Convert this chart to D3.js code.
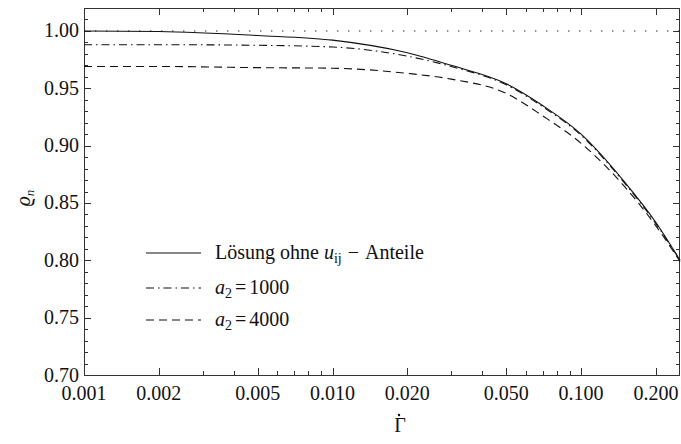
<!DOCTYPE html>
<html>
<head>
<meta charset="utf-8">
<script src="https://cdn.jsdelivr.net/npm/d3@7"></script>
<style>
  body { margin: 0; background: #fff; }
  svg { display: block; }
  text { font-family: "Liberation Serif", "DejaVu Serif", serif; fill: #111; }
</style>
</head>
<body>
<svg width="681" height="444"></svg>
<script>
// data
var gammaDot = [0.001, 0.002, 0.005, 0.01, 0.02, 0.03, 0.05, 0.07, 0.1, 0.15, 0.2, 0.25];
var rhoNoU   = [1.000, 0.9995, 0.996, 0.992, 0.981, 0.970, 0.954, 0.935, 0.910, 0.868, 0.833, 0.800];
var rhoA1000 = [0.988, 0.988, 0.9875, 0.986, 0.978, 0.969, 0.953, 0.934, 0.909, 0.867, 0.832, 0.800];
var rhoA4000 = [0.969, 0.969, 0.968, 0.9675, 0.963, 0.958, 0.9455, 0.926, 0.902, 0.864, 0.830, 0.799];

var xTicks = [0.001, 0.002, 0.005, 0.01, 0.02, 0.05, 0.1, 0.2];
var xTickLabels = ["0.001", "0.002", "0.005", "0.010", "0.020", "0.050", "0.100", "0.200"];
var yTicks = [0.70, 0.75, 0.80, 0.85, 0.90, 0.95, 1.00];

var svg = d3.select("svg");
var mLeft = 84, mRight = 680, mTop = 8, mBottom = 375;

var x = d3.scaleLog().domain([0.001, 0.25]).range([mLeft, mRight]);
var y = d3.scaleLinear().domain([0.70, 1.02]).range([mBottom, mTop]);

// minor ticks
var xMinor = [];
[0.001, 0.01, 0.1].forEach(function(dec) {
    for (var k = 1; k <= 9; k++) {
        var v = dec * k;
        if (v <= 0.25 + 1e-9) xMinor.push(v);
    }
});
var yMinor = d3.range(70, 103).map(function(d) { return d / 100; });

var ink = "#333";

// frame
svg.append("rect")
    .attr("x", mLeft + 0.5).attr("y", mTop + 0.5)
    .attr("width", mRight - mLeft - 1).attr("height", mBottom - mTop)
    .attr("fill", "none").attr("stroke", ink).attr("stroke-width", 1);

function isMajorX(v) {
    return xTicks.some(function(t) { return Math.abs(t - v) / t < 1e-6; });
}
function isMajorY(v) {
    return yTicks.some(function(t) { return Math.abs(t - v) < 1e-6; });
}

var ticks = svg.append("g").attr("stroke", ink).attr("stroke-width", 1);
xMinor.forEach(function(v) {
    var len = isMajorX(v) ? 7 : 4;
    var px = Math.round(x(v)) + 0.5;
    ticks.append("line").attr("x1", px).attr("x2", px).attr("y1", mBottom).attr("y2", mBottom - len);
    ticks.append("line").attr("x1", px).attr("x2", px).attr("y1", mTop).attr("y2", mTop + len);
});
yMinor.forEach(function(v) {
    var len = isMajorY(v) ? 7 : 4;
    var py = Math.round(y(v)) + 0.5;
    ticks.append("line").attr("x1", mLeft).attr("x2", mLeft + len).attr("y1", py).attr("y2", py);
    ticks.append("line").attr("x1", mRight).attr("x2", mRight - len).attr("y1", py).attr("y2", py);
});

// tick labels
svg.append("g").selectAll("text").data(xTicks).join("text")
    .attr("x", function(d) { return x(d); })
    .attr("y", mBottom + 25)
    .attr("text-anchor", "middle")
    .attr("font-size", 20)
    .text(function(d, i) { return xTickLabels[i]; });

svg.append("g").selectAll("text").data(yTicks).join("text")
    .attr("x", mLeft - 5)
    .attr("y", function(d) { return y(d) + 6.5; })
    .attr("text-anchor", "end")
    .attr("font-size", 20)
    .text(function(d) { return d.toFixed(2); });

// axis titles
svg.append("text")
    .attr("x", 400).attr("y", 432)
    .attr("text-anchor", "middle")
    .attr("font-size", 20)
    .text("\u0393");
svg.append("circle")
    .attr("cx", 399).attr("cy", 415).attr("r", 1.2).attr("fill", "#111");

var yl = svg.append("text")
    .attr("transform", "translate(30,198) rotate(-90)")
    .attr("text-anchor", "middle")
    .attr("font-size", 20)
    .attr("font-style", "italic");
yl.append("tspan").text("\u03F1");
yl.append("tspan").attr("font-size", 13).attr("dy", 4).text("n");

// reference line at 1
svg.append("line")
    .attr("x1", mLeft).attr("x2", mRight)
    .attr("y1", y(1)).attr("y2", y(1))
    .attr("stroke", "#222").attr("stroke-width", 1.1)
    .attr("stroke-dasharray", "1.4,9.6");

var line = d3.line()
    .x(function(d) { return x(d[0]); })
    .y(function(d) { return y(d[1]); })
    .curve(d3.curveMonotoneX);

var series = [
    { vals: rhoNoU, dash: null },
    { vals: rhoA1000, dash: "8,4,1.5,4" },
    { vals: rhoA4000, dash: "8,5" }
];

var plot = svg.append("g");
series.forEach(function(s) {
    plot.append("path")
        .datum(gammaDot.map(function(g, i) { return [g, s.vals[i]]; }))
        .attr("d", line)
        .attr("fill", "none")
        .attr("stroke", "#111")
        .attr("stroke-width", 1.1)
        .attr("stroke-dasharray", s.dash);
});

// legend
var legend = svg.append("g");
var legY = [253, 288, 320];
series.forEach(function(s, i) {
    legend.append("line")
        .attr("x1", 146).attr("x2", 201)
        .attr("y1", legY[i]).attr("y2", legY[i])
        .attr("stroke", "#111").attr("stroke-width", 1.1)
        .attr("stroke-dasharray", s.dash);
});

var t0 = legend.append("text").attr("x", 215).attr("y", legY[0] + 6).attr("font-size", 20);
t0.append("tspan").text("L\u00F6sung ohne ");
t0.append("tspan").attr("font-style", "italic").text("u");
t0.append("tspan").attr("font-size", 14).attr("dy", 4).text("ij");
t0.append("tspan").attr("dy", -4).attr("dx", 6).text("\u2212");
t0.append("tspan").attr("dx", 6).text("Anteile");

["1000", "4000"].forEach(function(val, i) {
    var t = legend.append("text").attr("x", 215).attr("y", legY[i + 1] + 6).attr("font-size", 20);
    t.append("tspan").attr("font-style", "italic").text("a");
    t.append("tspan").attr("font-size", 14).attr("dy", 4).text("2");
    t.append("tspan").attr("dy", -4).attr("dx", 3).text("=");
    t.append("tspan").attr("dx", 3).text(val);
});
</script>
</body>
</html>
